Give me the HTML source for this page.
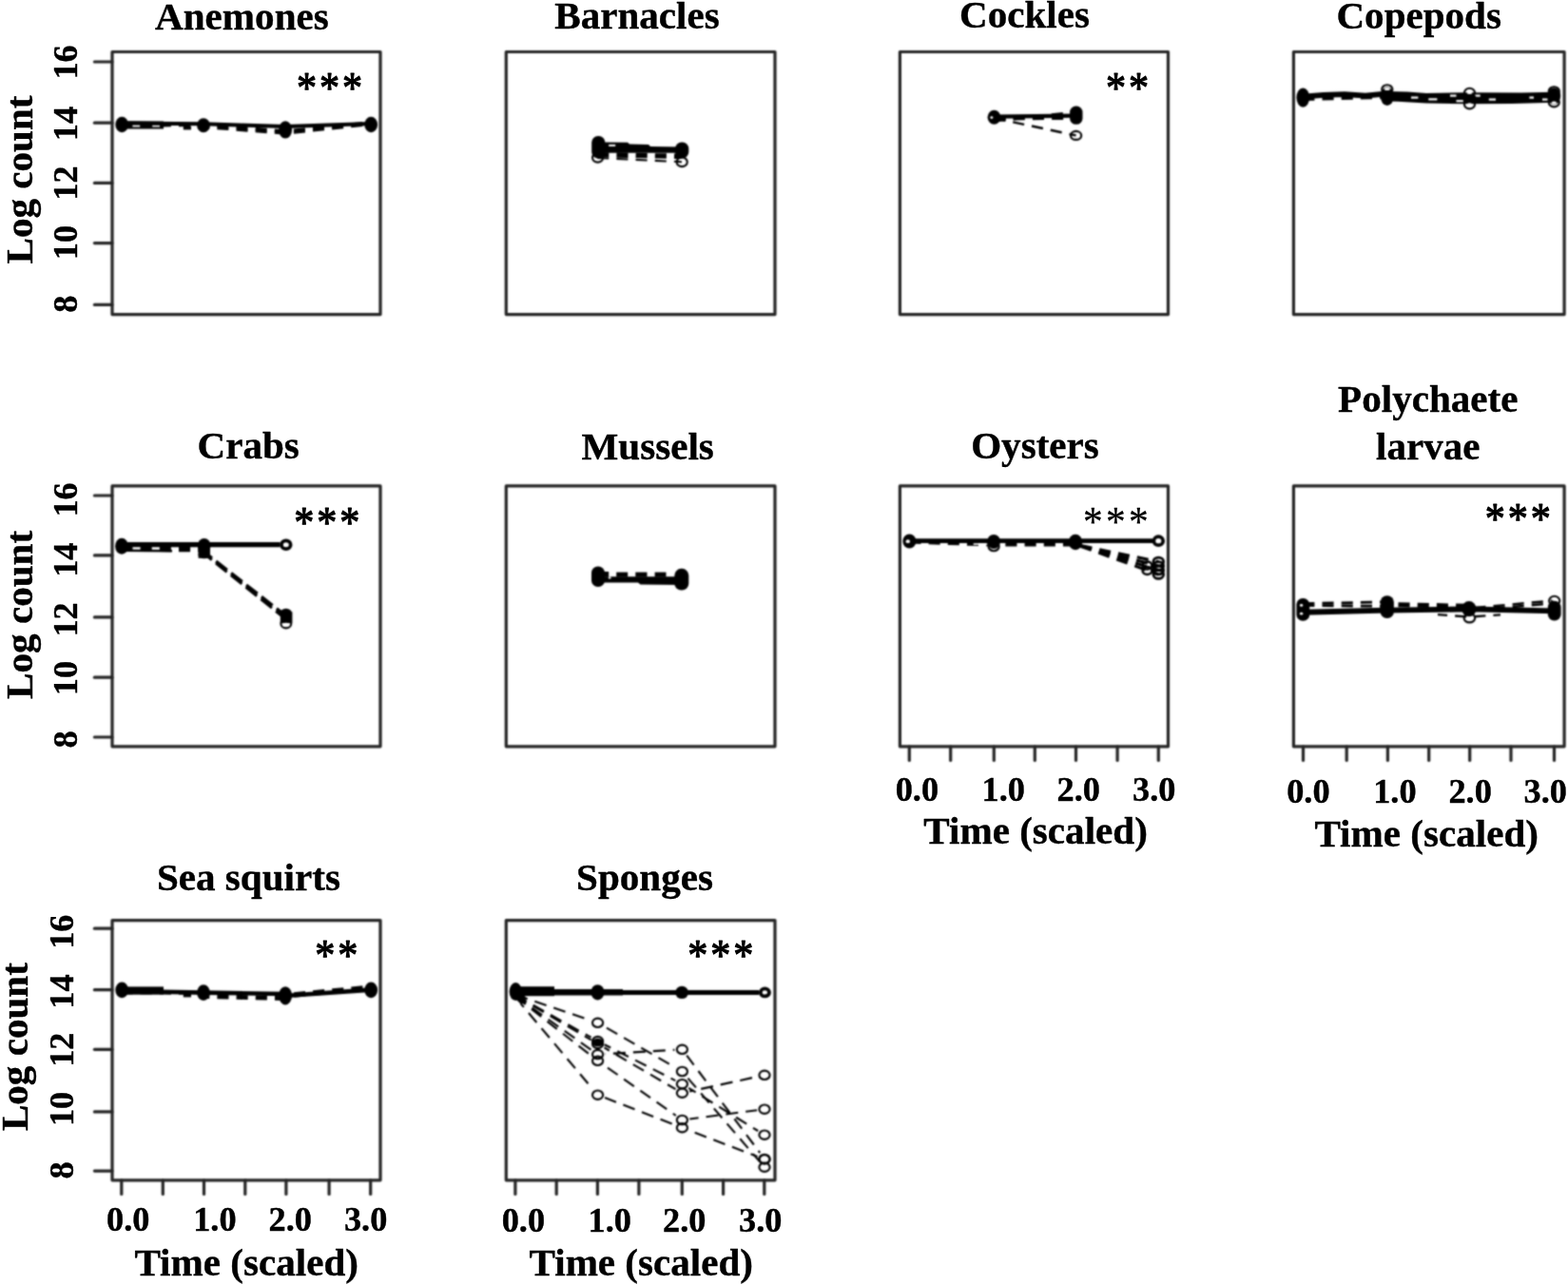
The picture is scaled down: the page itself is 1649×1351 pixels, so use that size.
<!DOCTYPE html>
<html lang="en"><head><meta charset="utf-8"><title>Log count by time (scaled) per taxon</title>
<style>
html,body{margin:0;padding:0;background:#fff;}
body{width:1649px;height:1351px;overflow:hidden;}
svg{display:block;}
text{font-family:"Liberation Serif",serif;font-weight:bold;fill:#000;stroke:#000;stroke-width:0.4px;stroke-linejoin:round;}
.tt{font-size:41.1px;}
.tk{font-size:36.3px;}
.st{font-size:42.2px;font-weight:normal;stroke:#000;stroke-width:1.1px;stroke-linejoin:round;}
</style></head>
<body>
<svg width="1649" height="1351" viewBox="0 0 1649 1351">
<rect x="0" y="0" width="1649" height="1351" fill="#fff"/>
<defs>
<filter id="soft" x="0" y="0" width="100%" height="100%" filterUnits="userSpaceOnUse" color-interpolation-filters="sRGB"><feConvolveMatrix order="5" kernelMatrix="0.00087 0.00695 0.01388 0.00695 0.00087 0.00695 0.05540 0.11068 0.05540 0.00695 0.01388 0.11068 0.22111 0.11068 0.01388 0.00695 0.05540 0.11068 0.05540 0.00695 0.00087 0.00695 0.01388 0.00695 0.00087" divisor="1" edgeMode="none" preserveAlpha="false"/></filter>
</defs>
<g id="plots" filter="url(#soft)">
<rect x="118.0" y="54.5" width="282.0" height="276.1" fill="none" stroke="#242424" stroke-width="3.2" stroke-linejoin="round"/>
<line x1="99.4" y1="65.0" x2="118.0" y2="65.0" stroke="#242424" stroke-width="3.2" stroke-linecap="round"/>
<line x1="99.4" y1="129.2" x2="118.0" y2="129.2" stroke="#242424" stroke-width="3.2" stroke-linecap="round"/>
<line x1="99.4" y1="192.4" x2="118.0" y2="192.4" stroke="#242424" stroke-width="3.2" stroke-linecap="round"/>
<line x1="99.4" y1="255.6" x2="118.0" y2="255.6" stroke="#242424" stroke-width="3.2" stroke-linecap="round"/>
<line x1="99.4" y1="320.4" x2="118.0" y2="320.4" stroke="#242424" stroke-width="3.2" stroke-linecap="round"/>
<polyline points="127.4,132.4 214.0,131.2 300.1,138.0 390.2,128.8" fill="none" stroke="#000" stroke-width="3.4" stroke-linecap="butt" stroke-linejoin="round" stroke-dasharray="12.1 8.1" stroke-dashoffset="0"/>
<polyline points="214.0,133.6 300.1,140.2 390.2,130.6" fill="none" stroke="#000" stroke-width="3.0" stroke-linecap="butt" stroke-linejoin="round" stroke-dasharray="12.1 8.1" stroke-dashoffset="5.8"/>
<polyline points="128.0,131.4 172.0,131.5" fill="none" stroke="#000" stroke-width="8.2" stroke-linecap="butt" stroke-linejoin="round"/>
<rect x="139.4" y="131.0" width="7.8" height="2.4" fill="#fff"/>
<rect x="160.2" y="131.0" width="7.8" height="2.4" fill="#fff"/>
<rect x="192.8" y="132.6" width="8.2" height="3.8" fill="#000"/>
<polyline points="128.2,129.6 214.0,130.2 300.1,133.0 390.2,130.0" fill="none" stroke="#000" stroke-width="4.0" stroke-linecap="butt" stroke-linejoin="round"/>
<ellipse cx="128.2" cy="131.0" rx="6.9" ry="8.3" fill="#000"/>
<ellipse cx="214.0" cy="131.8" rx="6.9" ry="7.5" fill="#000"/>
<ellipse cx="300.1" cy="136.4" rx="7.0" ry="9.2" fill="#000"/>
<ellipse cx="390.2" cy="131.0" rx="6.9" ry="8.3" fill="#000"/>
<rect x="532.3" y="54.5" width="282.7" height="276.1" fill="none" stroke="#242424" stroke-width="3.2" stroke-linejoin="round"/>
<ellipse cx="628.6" cy="165.8" rx="5.6" ry="4.8" fill="none" stroke="#000" stroke-width="2.1"/>
<ellipse cx="717.2" cy="170.3" rx="5.6" ry="4.8" fill="none" stroke="#000" stroke-width="2.1"/>
<polyline points="628.2,166.0 717.0,170.2" fill="none" stroke="#000" stroke-width="2.1" stroke-linecap="butt" stroke-linejoin="round" stroke-dasharray="12.1 8.1" stroke-dashoffset="0"/>
<polyline points="628.2,162.6 717.0,164.4" fill="none" stroke="#000" stroke-width="5.4" stroke-linecap="butt" stroke-linejoin="round" stroke-dasharray="12.1 8.1" stroke-dashoffset="0"/>
<polygon points="629.0,149.4 660.0,149.8 662.0,151.6 682.0,152.0 684.0,154.0 717.0,154.4 717.0,160.8 629.0,160.8" fill="#000"/>
<rect x="640.2" y="151.9" width="7.0" height="2.0" fill="#fff"/>
<rect x="622.2" y="143.0" width="14.2" height="23.6" rx="6.8" ry="6.8" fill="#000"/>
<rect x="710.1" y="149.4" width="14.2" height="17.2" rx="6.8" ry="6.8" fill="#000"/>
<rect x="946.4" y="54.5" width="282.1" height="276.1" fill="none" stroke="#242424" stroke-width="3.2" stroke-linejoin="round"/>
<polyline points="1045.5,124.2 1131.6,142.4" fill="none" stroke="#000" stroke-width="2.5" stroke-linecap="butt" stroke-linejoin="round" stroke-dasharray="12.1 8.1" stroke-dashoffset="0"/>
<ellipse cx="1131.6" cy="142.4" rx="5.6" ry="4.5" fill="none" stroke="#000" stroke-width="2.1"/>
<polyline points="1045.5,126.8 1131.8,118.4" fill="none" stroke="#000" stroke-width="3.4" stroke-linecap="butt" stroke-linejoin="round" stroke-dasharray="12.1 8.1" stroke-dashoffset="0"/>
<polyline points="1045.5,124.8 1131.8,124.0" fill="none" stroke="#000" stroke-width="3.6" stroke-linecap="butt" stroke-linejoin="round" stroke-dasharray="12.1 8.1" stroke-dashoffset="0"/>
<polyline points="1045.5,122.6 1131.8,121.6" fill="none" stroke="#000" stroke-width="4.2" stroke-linecap="butt" stroke-linejoin="round"/>
<ellipse cx="1045.5" cy="123.3" rx="6.9" ry="7.5" fill="#000"/>
<ellipse cx="1042.9" cy="123.6" rx="1.5" ry="1.4" fill="#fff"/>
<rect x="1125.1" y="111.6" width="13.4" height="19.2" rx="6.4" ry="6.4" fill="#000"/>
<rect x="1360.4" y="54.5" width="284.7" height="276.1" fill="none" stroke="#242424" stroke-width="3.2" stroke-linejoin="round"/>
<ellipse cx="1458.8" cy="94.0" rx="5.6" ry="4.8" fill="none" stroke="#000" stroke-width="2.1"/>
<ellipse cx="1545.5" cy="97.6" rx="5.6" ry="4.8" fill="none" stroke="#000" stroke-width="2.1"/>
<ellipse cx="1545.5" cy="109.6" rx="5.6" ry="4.8" fill="none" stroke="#000" stroke-width="2.1"/>
<ellipse cx="1634.3" cy="107.6" rx="5.6" ry="4.8" fill="none" stroke="#000" stroke-width="2.1"/>
<ellipse cx="1634.3" cy="96.0" rx="5.6" ry="4.8" fill="none" stroke="#000" stroke-width="2.1"/>
<polyline points="1370.3,101.6 1392.0,99.8 1414.0,99.2 1436.0,100.6 1458.8,98.4" fill="none" stroke="#000" stroke-width="5.8" stroke-linecap="butt" stroke-linejoin="round"/>
<polyline points="1370.3,103.8 1458.8,101.8" fill="none" stroke="#000" stroke-width="4.2" stroke-linecap="butt" stroke-linejoin="round" stroke-dasharray="12.1 8.1" stroke-dashoffset="0"/>
<polygon points="1458.8,96.0 1480.0,96.4 1500.0,98.0 1545.5,97.2 1600.0,97.4 1634.3,96.8 1634.3,107.8 1590.0,109.0 1545.5,109.2 1500.0,108.6 1470.0,106.8 1458.8,106.4" fill="#000"/>
<rect x="1484.0" y="101.5" width="7.4" height="2.2" fill="#fff"/>
<rect x="1502.3" y="103.3" width="9.1" height="2.2" fill="#fff"/>
<rect x="1525.0" y="99.5" width="6.5" height="2.2" fill="#fff"/>
<rect x="1531.5" y="105.1" width="7.3" height="2.2" fill="#fff"/>
<rect x="1551.3" y="99.5" width="5.4" height="2.2" fill="#fff"/>
<rect x="1565.8" y="103.5" width="7.2" height="2.2" fill="#fff"/>
<rect x="1608.4" y="101.5" width="4.6" height="2.2" fill="#fff"/>
<rect x="1622.0" y="103.5" width="5.5" height="2.2" fill="#fff"/>
<ellipse cx="1370.3" cy="102.6" rx="6.9" ry="10.1" fill="#000"/>
<ellipse cx="1458.8" cy="101.2" rx="6.9" ry="9.8" fill="#000"/>
<ellipse cx="1545.5" cy="103.5" rx="7.1" ry="5.6" fill="#000"/>
<ellipse cx="1634.3" cy="101.0" rx="6.9" ry="8.8" fill="#000"/>
<ellipse cx="1545.5" cy="97.4" rx="2.8" ry="1.6" fill="#fff"/>
<ellipse cx="1545.5" cy="109.8" rx="2.8" ry="1.6" fill="#fff"/>
<ellipse cx="1458.8" cy="93.4" rx="3.0" ry="1.5" fill="#fff"/>
<ellipse cx="1634.3" cy="107.9" rx="2.8" ry="1.5" fill="#fff"/>
<rect x="118.0" y="510.9" width="282.0" height="273.9" fill="none" stroke="#242424" stroke-width="3.2" stroke-linejoin="round"/>
<line x1="99.4" y1="521.0" x2="118.0" y2="521.0" stroke="#242424" stroke-width="3.2" stroke-linecap="round"/>
<line x1="99.4" y1="583.9" x2="118.0" y2="583.9" stroke="#242424" stroke-width="3.2" stroke-linecap="round"/>
<line x1="99.4" y1="648.9" x2="118.0" y2="648.9" stroke="#242424" stroke-width="3.2" stroke-linecap="round"/>
<line x1="99.4" y1="712.2" x2="118.0" y2="712.2" stroke="#242424" stroke-width="3.2" stroke-linecap="round"/>
<line x1="99.4" y1="775.0" x2="118.0" y2="775.0" stroke="#242424" stroke-width="3.2" stroke-linecap="round"/>
<polyline points="127.4,577.0 214.7,577.8" fill="none" stroke="#000" stroke-width="5.4" stroke-linecap="butt" stroke-linejoin="round" stroke-dasharray="12.1 8.1" stroke-dashoffset="0"/>
<polyline points="128.0,578.8 181.0,579.2" fill="none" stroke="#000" stroke-width="2.4" stroke-linecap="butt" stroke-linejoin="round"/>
<polyline points="214.7,580.4 300.8,647.6" fill="none" stroke="#000" stroke-width="3.3" stroke-linecap="butt" stroke-linejoin="round" stroke-dasharray="14.8 5.4" stroke-dashoffset="4.4"/>
<polyline points="214.7,582.2 300.8,651.0" fill="none" stroke="#000" stroke-width="3.0" stroke-linecap="butt" stroke-linejoin="round" stroke-dasharray="14.8 5.4" stroke-dashoffset="4.4"/>
<polyline points="128.0,572.7 294.6,572.7" fill="none" stroke="#000" stroke-width="5.2" stroke-linecap="butt" stroke-linejoin="round"/>
<ellipse cx="300.8" cy="572.7" rx="4.85" ry="4.35" fill="#fff" stroke="#000" stroke-width="3.7"/>
<ellipse cx="300.8" cy="655.8" rx="5.4" ry="4.6" fill="none" stroke="#000" stroke-width="2.1"/>
<ellipse cx="128.0" cy="574.3" rx="6.9" ry="8.5" fill="#000"/>
<ellipse cx="214.7" cy="573.6" rx="6.9" ry="7.7" fill="#000"/>
<rect x="208.6" y="573.0" width="12.4" height="13.8" fill="#000"/>
<ellipse cx="214.7" cy="583.0" rx="6.3" ry="4.2" fill="#000"/>
<rect x="294.8" y="643.4" width="12.6" height="11.8" fill="#000"/>
<ellipse cx="300.8" cy="645.0" rx="6.3" ry="5.2" fill="#000"/>
<ellipse cx="300.8" cy="656.2" rx="3.2" ry="1.5" fill="#fff"/>
<rect x="532.3" y="510.9" width="282.7" height="273.9" fill="none" stroke="#242424" stroke-width="3.2" stroke-linejoin="round"/>
<polygon points="629.0,606.2 717.0,606.2 717.0,614.9 673.5,614.5 671.0,612.4 629.0,612.4" fill="#000"/>
<rect x="648.2" y="601.6" width="12.0" height="5.0" fill="#000"/>
<rect x="668.3" y="601.6" width="12.2" height="5.0" fill="#000"/>
<rect x="688.6" y="601.6" width="11.9" height="5.0" fill="#000"/>
<rect x="634.0" y="601.0" width="6.2" height="5.6" fill="#000"/>
<rect x="622.0" y="595.4" width="14.0" height="21.6" rx="6.8" ry="6.8" fill="#000"/>
<rect x="709.3" y="597.8" width="15.0" height="22.8" rx="7.2" ry="7.2" fill="#000"/>
<ellipse cx="641.2" cy="607.4" rx="1.4" ry="1.2" fill="#fff"/>
<rect x="946.4" y="510.9" width="282.1" height="273.9" fill="none" stroke="#242424" stroke-width="3.2" stroke-linejoin="round"/>
<line x1="956.3" y1="784.8" x2="956.3" y2="799.4" stroke="#242424" stroke-width="3.2" stroke-linecap="round"/>
<line x1="999.7" y1="784.8" x2="999.7" y2="799.4" stroke="#242424" stroke-width="3.2" stroke-linecap="round"/>
<line x1="1045.3" y1="784.8" x2="1045.3" y2="799.4" stroke="#242424" stroke-width="3.2" stroke-linecap="round"/>
<line x1="1088.3" y1="784.8" x2="1088.3" y2="799.4" stroke="#242424" stroke-width="3.2" stroke-linecap="round"/>
<line x1="1131.5" y1="784.8" x2="1131.5" y2="799.4" stroke="#242424" stroke-width="3.2" stroke-linecap="round"/>
<line x1="1175.1" y1="784.8" x2="1175.1" y2="799.4" stroke="#242424" stroke-width="3.2" stroke-linecap="round"/>
<line x1="1218.3" y1="784.8" x2="1218.3" y2="799.4" stroke="#242424" stroke-width="3.2" stroke-linecap="round"/>
<ellipse cx="1045.1" cy="574.6" rx="5.6" ry="4.6" fill="none" stroke="#000" stroke-width="2.1"/>
<polyline points="956.4,569.6 1045.1,572.6 1131.0,572.4" fill="none" stroke="#000" stroke-width="4.0" stroke-linecap="butt" stroke-linejoin="round" stroke-dasharray="12.1 8.1" stroke-dashoffset="0"/>
<polyline points="1131.0,572.4 1218.3,590.5" fill="none" stroke="#000" stroke-width="3.0" stroke-linecap="butt" stroke-linejoin="round" stroke-dasharray="12.1 8.1" stroke-dashoffset="14.6"/>
<polyline points="1131.0,572.4 1218.3,595.0" fill="none" stroke="#000" stroke-width="3.0" stroke-linecap="butt" stroke-linejoin="round" stroke-dasharray="12.1 8.1" stroke-dashoffset="14.6"/>
<polyline points="1131.0,572.4 1218.3,599.5" fill="none" stroke="#000" stroke-width="3.0" stroke-linecap="butt" stroke-linejoin="round" stroke-dasharray="12.1 8.1" stroke-dashoffset="14.6"/>
<polyline points="1131.0,572.4 1218.3,604.0" fill="none" stroke="#000" stroke-width="3.0" stroke-linecap="butt" stroke-linejoin="round" stroke-dasharray="12.1 8.1" stroke-dashoffset="14.6"/>
<ellipse cx="1218.3" cy="590.5" rx="5.4" ry="4.4" fill="none" stroke="#000" stroke-width="2.7"/>
<ellipse cx="1218.3" cy="595.0" rx="5.4" ry="4.4" fill="none" stroke="#000" stroke-width="2.7"/>
<ellipse cx="1218.3" cy="599.5" rx="5.4" ry="4.4" fill="none" stroke="#000" stroke-width="2.7"/>
<ellipse cx="1218.3" cy="604.0" rx="5.4" ry="4.4" fill="none" stroke="#000" stroke-width="2.7"/>
<ellipse cx="1206.5" cy="594.5" rx="4.9" ry="4.0" fill="none" stroke="#000" stroke-width="2.5"/>
<ellipse cx="1206.5" cy="600.0" rx="4.9" ry="4.0" fill="none" stroke="#000" stroke-width="2.5"/>
<polyline points="956.4,568.7 1212.2,568.7" fill="none" stroke="#000" stroke-width="4.8" stroke-linecap="butt" stroke-linejoin="round"/>
<ellipse cx="1218.3" cy="568.7" rx="4.9" ry="4.5" fill="#fff" stroke="#000" stroke-width="3.7"/>
<ellipse cx="956.4" cy="569.0" rx="7.1" ry="7.4" fill="#000"/>
<ellipse cx="954.8" cy="569.2" rx="2.2" ry="1.9" fill="#fff"/>
<ellipse cx="1045.1" cy="569.4" rx="6.9" ry="7.5" fill="#000"/>
<ellipse cx="1131.0" cy="570.0" rx="7.3" ry="8.3" fill="#000"/>
<rect x="1023.7" y="571.2" width="14.5" height="1.7" fill="#fff"/>
<rect x="1360.4" y="510.9" width="284.7" height="273.9" fill="none" stroke="#242424" stroke-width="3.2" stroke-linejoin="round"/>
<line x1="1370.5" y1="784.8" x2="1370.5" y2="799.4" stroke="#242424" stroke-width="3.2" stroke-linecap="round"/>
<line x1="1416.2" y1="784.8" x2="1416.2" y2="799.4" stroke="#242424" stroke-width="3.2" stroke-linecap="round"/>
<line x1="1459.4" y1="784.8" x2="1459.4" y2="799.4" stroke="#242424" stroke-width="3.2" stroke-linecap="round"/>
<line x1="1502.7" y1="784.8" x2="1502.7" y2="799.4" stroke="#242424" stroke-width="3.2" stroke-linecap="round"/>
<line x1="1545.7" y1="784.8" x2="1545.7" y2="799.4" stroke="#242424" stroke-width="3.2" stroke-linecap="round"/>
<line x1="1589.0" y1="784.8" x2="1589.0" y2="799.4" stroke="#242424" stroke-width="3.2" stroke-linecap="round"/>
<line x1="1634.5" y1="784.8" x2="1634.5" y2="799.4" stroke="#242424" stroke-width="3.2" stroke-linecap="round"/>
<ellipse cx="1545.4" cy="649.8" rx="5.8" ry="4.6" fill="none" stroke="#000" stroke-width="2.1"/>
<ellipse cx="1634.7" cy="631.6" rx="5.6" ry="4.8" fill="none" stroke="#000" stroke-width="2.1"/>
<polyline points="1370.3,634.6 1458.8,632.8" fill="none" stroke="#000" stroke-width="2.8" stroke-linecap="butt" stroke-linejoin="round" stroke-dasharray="12.1 8.1" stroke-dashoffset="0"/>
<polyline points="1370.3,636.4 1458.8,637.4" fill="none" stroke="#000" stroke-width="2.8" stroke-linecap="butt" stroke-linejoin="round" stroke-dasharray="12.1 8.1" stroke-dashoffset="0"/>
<polyline points="1458.8,635.4 1544.9,637.4" fill="none" stroke="#000" stroke-width="5.0" stroke-linecap="butt" stroke-linejoin="round" stroke-dasharray="12.1 8.1" stroke-dashoffset="8.5"/>
<polyline points="1544.9,639.6 1634.7,631.4" fill="none" stroke="#000" stroke-width="2.5" stroke-linecap="butt" stroke-linejoin="round" stroke-dasharray="12.1 8.1" stroke-dashoffset="14.7"/>
<polyline points="1544.9,641.8 1634.7,634.2" fill="none" stroke="#000" stroke-width="2.5" stroke-linecap="butt" stroke-linejoin="round" stroke-dasharray="12.1 8.1" stroke-dashoffset="14.7"/>
<polyline points="1512.0,646.2 1545.4,648.6 1578.0,646.4" fill="none" stroke="#000" stroke-width="2.3" stroke-linecap="butt" stroke-linejoin="round" stroke-dasharray="12.1 8.1" stroke-dashoffset="2"/>
<polyline points="1370.3,643.8 1458.8,641.6 1544.9,640.4 1634.7,642.4" fill="none" stroke="#000" stroke-width="5.9" stroke-linecap="butt" stroke-linejoin="round"/>
<rect x="1363.4" y="629.0" width="13.8" height="23.8" rx="6.6" ry="6.6" fill="#000"/>
<ellipse cx="1368.6" cy="636.4" rx="1.7" ry="1.4" fill="#fff"/>
<ellipse cx="1368.6" cy="645.2" rx="1.7" ry="1.4" fill="#fff"/>
<rect x="1451.7" y="626.2" width="14.2" height="23.8" rx="6.8" ry="6.8" fill="#000"/>
<ellipse cx="1544.9" cy="640.2" rx="7.7" ry="8.1" fill="#000"/>
<rect x="1627.8" y="631.8" width="13.8" height="20.6" rx="6.6" ry="6.6" fill="#000"/>
<ellipse cx="1634.7" cy="630.4" rx="2.8" ry="1.4" fill="#fff"/>
<ellipse cx="1545.4" cy="651.2" rx="3.0" ry="1.4" fill="#fff"/>
<rect x="118.0" y="967.6" width="282.0" height="273.2" fill="none" stroke="#242424" stroke-width="3.2" stroke-linejoin="round"/>
<line x1="99.4" y1="976.2" x2="118.0" y2="976.2" stroke="#242424" stroke-width="3.2" stroke-linecap="round"/>
<line x1="99.4" y1="1040.7" x2="118.0" y2="1040.7" stroke="#242424" stroke-width="3.2" stroke-linecap="round"/>
<line x1="99.4" y1="1103.3" x2="118.0" y2="1103.3" stroke="#242424" stroke-width="3.2" stroke-linecap="round"/>
<line x1="99.4" y1="1168.9" x2="118.0" y2="1168.9" stroke="#242424" stroke-width="3.2" stroke-linecap="round"/>
<line x1="99.4" y1="1231.1" x2="118.0" y2="1231.1" stroke="#242424" stroke-width="3.2" stroke-linecap="round"/>
<line x1="127.8" y1="1240.8" x2="127.8" y2="1255.4" stroke="#242424" stroke-width="3.2" stroke-linecap="round"/>
<line x1="171.3" y1="1240.8" x2="171.3" y2="1255.4" stroke="#242424" stroke-width="3.2" stroke-linecap="round"/>
<line x1="214.5" y1="1240.8" x2="214.5" y2="1255.4" stroke="#242424" stroke-width="3.2" stroke-linecap="round"/>
<line x1="257.8" y1="1240.8" x2="257.8" y2="1255.4" stroke="#242424" stroke-width="3.2" stroke-linecap="round"/>
<line x1="300.9" y1="1240.8" x2="300.9" y2="1255.4" stroke="#242424" stroke-width="3.2" stroke-linecap="round"/>
<line x1="346.1" y1="1240.8" x2="346.1" y2="1255.4" stroke="#242424" stroke-width="3.2" stroke-linecap="round"/>
<line x1="389.7" y1="1240.8" x2="389.7" y2="1255.4" stroke="#242424" stroke-width="3.2" stroke-linecap="round"/>
<polyline points="127.4,1043.2 214.0,1043.6" fill="none" stroke="#000" stroke-width="4.4" stroke-linecap="butt" stroke-linejoin="round" stroke-dasharray="12.1 8.1" stroke-dashoffset="0"/>
<polyline points="214.0,1047.4 300.1,1049.6" fill="none" stroke="#000" stroke-width="4.8" stroke-linecap="butt" stroke-linejoin="round" stroke-dasharray="12.1 8.1" stroke-dashoffset="5.8"/>
<polyline points="300.1,1046.8 390.2,1038.2" fill="none" stroke="#000" stroke-width="5.6" stroke-linecap="butt" stroke-linejoin="round" stroke-dasharray="12.1 8.1" stroke-dashoffset="11.1"/>
<rect x="128.0" y="1037.4" width="44.0" height="8.3" fill="#000"/>
<rect x="192.8" y="1045.0" width="8.2" height="3.4" fill="#000"/>
<polyline points="170.0,1042.7 214.0,1043.6 300.1,1045.0 303.0,1046.8 390.2,1040.6" fill="none" stroke="#000" stroke-width="4.6" stroke-linecap="butt" stroke-linejoin="round"/>
<ellipse cx="128.2" cy="1040.9" rx="6.9" ry="8.3" fill="#000"/>
<ellipse cx="214.0" cy="1043.6" rx="6.9" ry="8.3" fill="#000"/>
<ellipse cx="300.1" cy="1046.8" rx="7.0" ry="9.6" fill="#000"/>
<ellipse cx="390.2" cy="1040.9" rx="6.9" ry="8.3" fill="#000"/>
<rect x="532.3" y="967.6" width="282.7" height="273.2" fill="none" stroke="#242424" stroke-width="3.2" stroke-linejoin="round"/>
<line x1="541.9" y1="1240.8" x2="541.9" y2="1255.4" stroke="#242424" stroke-width="3.2" stroke-linecap="round"/>
<line x1="585.2" y1="1240.8" x2="585.2" y2="1255.4" stroke="#242424" stroke-width="3.2" stroke-linecap="round"/>
<line x1="628.4" y1="1240.8" x2="628.4" y2="1255.4" stroke="#242424" stroke-width="3.2" stroke-linecap="round"/>
<line x1="671.9" y1="1240.8" x2="671.9" y2="1255.4" stroke="#242424" stroke-width="3.2" stroke-linecap="round"/>
<line x1="717.3" y1="1240.8" x2="717.3" y2="1255.4" stroke="#242424" stroke-width="3.2" stroke-linecap="round"/>
<line x1="760.6" y1="1240.8" x2="760.6" y2="1255.4" stroke="#242424" stroke-width="3.2" stroke-linecap="round"/>
<line x1="803.8" y1="1240.8" x2="803.8" y2="1255.4" stroke="#242424" stroke-width="3.2" stroke-linecap="round"/>
<line x1="550.0" y1="1048.6" x2="621.0" y2="1072.7" stroke="#000" stroke-width="2.1" stroke-dasharray="13 8" stroke-dashoffset="8.0"/>
<line x1="635.5" y1="1079.3" x2="710.5" y2="1122.5" stroke="#000" stroke-width="2.1" stroke-dasharray="13 8" stroke-dashoffset="18.2"/>
<line x1="722.6" y1="1132.6" x2="798.8" y2="1221.1" stroke="#000" stroke-width="2.1" stroke-dasharray="13 8" stroke-dashoffset="19.7"/>
<line x1="549.4" y1="1050.4" x2="621.6" y2="1090.7" stroke="#000" stroke-width="2.1" stroke-dasharray="13 8" stroke-dashoffset="8.0"/>
<line x1="635.7" y1="1098.2" x2="710.3" y2="1136.1" stroke="#000" stroke-width="2.1" stroke-dasharray="13 8" stroke-dashoffset="5.7"/>
<line x1="724.2" y1="1143.9" x2="797.2" y2="1189.0" stroke="#000" stroke-width="2.1" stroke-dasharray="13 8" stroke-dashoffset="4.3"/>
<line x1="549.3" y1="1051.0" x2="621.7" y2="1093.4" stroke="#000" stroke-width="2.1" stroke-dasharray="13 8" stroke-dashoffset="8.0"/>
<line x1="635.5" y1="1101.4" x2="710.5" y2="1145.2" stroke="#000" stroke-width="2.1" stroke-dasharray="13 8" stroke-dashoffset="6.9"/>
<line x1="725.2" y1="1147.5" x2="796.2" y2="1132.0" stroke="#000" stroke-width="2.1" stroke-dasharray="13 8" stroke-dashoffset="8.7"/>
<line x1="548.9" y1="1052.1" x2="622.1" y2="1104.0" stroke="#000" stroke-width="2.1" stroke-dasharray="13 8" stroke-dashoffset="8.0"/>
<line x1="636.6" y1="1108.1" x2="709.4" y2="1103.8" stroke="#000" stroke-width="2.1" stroke-dasharray="13 8" stroke-dashoffset="12.7"/>
<line x1="722.2" y1="1109.7" x2="799.2" y2="1212.0" stroke="#000" stroke-width="2.1" stroke-dasharray="13 8" stroke-dashoffset="0.6"/>
<line x1="548.7" y1="1052.9" x2="622.3" y2="1110.4" stroke="#000" stroke-width="2.1" stroke-dasharray="13 8" stroke-dashoffset="8.0"/>
<line x1="635.2" y1="1119.9" x2="710.8" y2="1172.9" stroke="#000" stroke-width="2.1" stroke-dasharray="13 8" stroke-dashoffset="16.4"/>
<line x1="725.3" y1="1176.5" x2="796.1" y2="1167.2" stroke="#000" stroke-width="2.1" stroke-dasharray="13 8" stroke-dashoffset="3.6"/>
<line x1="547.6" y1="1055.1" x2="623.4" y2="1145.1" stroke="#000" stroke-width="2.1" stroke-dasharray="13 8" stroke-dashoffset="8.0"/>
<line x1="636.1" y1="1154.1" x2="709.9" y2="1182.8" stroke="#000" stroke-width="2.1" stroke-dasharray="13 8" stroke-dashoffset="0.3"/>
<line x1="724.9" y1="1188.6" x2="796.5" y2="1216.0" stroke="#000" stroke-width="2.1" stroke-dasharray="13 8" stroke-dashoffset="14.8"/>
<ellipse cx="628.6" cy="1075.3" rx="5.6" ry="4.7" fill="none" stroke="#000" stroke-width="2.1"/>
<ellipse cx="717.4" cy="1126.5" rx="5.6" ry="4.7" fill="none" stroke="#000" stroke-width="2.1"/>
<ellipse cx="804.0" cy="1227.2" rx="5.6" ry="4.7" fill="none" stroke="#000" stroke-width="2.1"/>
<ellipse cx="628.6" cy="1094.6" rx="5.6" ry="4.7" fill="none" stroke="#000" stroke-width="2.1"/>
<ellipse cx="717.4" cy="1139.7" rx="5.6" ry="4.7" fill="none" stroke="#000" stroke-width="2.1"/>
<ellipse cx="804.0" cy="1193.2" rx="5.6" ry="4.7" fill="none" stroke="#000" stroke-width="2.1"/>
<ellipse cx="628.6" cy="1097.4" rx="5.6" ry="4.7" fill="none" stroke="#000" stroke-width="2.1"/>
<ellipse cx="717.4" cy="1149.2" rx="5.6" ry="4.7" fill="none" stroke="#000" stroke-width="2.1"/>
<ellipse cx="804.0" cy="1130.3" rx="5.6" ry="4.7" fill="none" stroke="#000" stroke-width="2.1"/>
<ellipse cx="628.6" cy="1108.6" rx="5.6" ry="4.7" fill="none" stroke="#000" stroke-width="2.1"/>
<ellipse cx="717.4" cy="1103.3" rx="5.6" ry="4.7" fill="none" stroke="#000" stroke-width="2.1"/>
<ellipse cx="804.0" cy="1218.4" rx="5.6" ry="4.7" fill="none" stroke="#000" stroke-width="2.1"/>
<ellipse cx="628.6" cy="1115.3" rx="5.6" ry="4.7" fill="none" stroke="#000" stroke-width="2.1"/>
<ellipse cx="717.4" cy="1177.5" rx="5.6" ry="4.7" fill="none" stroke="#000" stroke-width="2.1"/>
<ellipse cx="804.0" cy="1166.2" rx="5.6" ry="4.7" fill="none" stroke="#000" stroke-width="2.1"/>
<ellipse cx="628.6" cy="1151.2" rx="5.6" ry="4.7" fill="none" stroke="#000" stroke-width="2.1"/>
<ellipse cx="717.4" cy="1185.7" rx="5.6" ry="4.7" fill="none" stroke="#000" stroke-width="2.1"/>
<ellipse cx="804.0" cy="1218.9" rx="5.6" ry="4.7" fill="none" stroke="#000" stroke-width="2.1"/>
<ellipse cx="628.6" cy="1096.0" rx="4.6" ry="3.6" fill="#000"/>
<rect x="542.0" y="1037.2" width="41.0" height="10.0" fill="#000"/>
<polyline points="580.0,1043.3 655.0,1043.3" fill="none" stroke="#000" stroke-width="6.4" stroke-linecap="butt" stroke-linejoin="round"/>
<polyline points="542.4,1043.4 798.0,1043.4" fill="none" stroke="#000" stroke-width="5.0" stroke-linecap="butt" stroke-linejoin="round"/>
<ellipse cx="542.3" cy="1042.6" rx="6.7" ry="9.5" fill="#000"/>
<polygon points="540.0,1048.0 551.0,1046.0 553.5,1049.5 548.5,1056.5" fill="#000"/>
<ellipse cx="628.5" cy="1043.3" rx="7.1" ry="8.1" fill="#000"/>
<ellipse cx="717.1" cy="1043.4" rx="6.9" ry="6.7" fill="#000"/>
<ellipse cx="804.4" cy="1043.4" rx="4.6" ry="4.0" fill="#fff" stroke="#000" stroke-width="3.8"/>
</g>
<g id="labels">
<text class="tk" text-anchor="middle" transform="translate(81.0,65.4) rotate(-90)">16</text>
<text class="tk" text-anchor="middle" transform="translate(81.0,130.0) rotate(-90)">14</text>
<text class="tk" text-anchor="middle" transform="translate(81.0,192.6) rotate(-90)">12</text>
<text class="tk" text-anchor="middle" transform="translate(81.0,255.0) rotate(-90)">10</text>
<text class="tk" text-anchor="middle" transform="translate(81.0,319.6) rotate(-90)">8</text>
<text class="tt" text-anchor="middle" transform="translate(33.8,189.0) rotate(-90)">Log count</text>
<text class="tt" text-anchor="middle" x="254.4" y="31.2">Anemones</text>
<text class="st" transform="translate(0,86.0) scale(1,1.08)" x="312.1 336.1 360.1" y="20.0">***</text>
<text class="tt" text-anchor="middle" x="670.0" y="29.8">Barnacles</text>
<text class="tt" text-anchor="middle" x="1077.5" y="29.1">Cockles</text>
<text class="st" transform="translate(0,86.6) scale(1,1.08)" x="1162.9 1186.9" y="20.0">**</text>
<text class="tt" text-anchor="middle" x="1492.2" y="30.0">Copepods</text>
<text class="tk" text-anchor="middle" transform="translate(80.6,525.4) rotate(-90)">16</text>
<text class="tk" text-anchor="middle" transform="translate(80.6,588.7) rotate(-90)">14</text>
<text class="tk" text-anchor="middle" transform="translate(80.6,651.4) rotate(-90)">12</text>
<text class="tk" text-anchor="middle" transform="translate(80.6,713.0) rotate(-90)">10</text>
<text class="tk" text-anchor="middle" transform="translate(80.6,777.4) rotate(-90)">8</text>
<text class="tt" text-anchor="middle" transform="translate(34.0,646.4) rotate(-90)">Log count</text>
<text class="tt" text-anchor="middle" x="261.2" y="482.0">Crabs</text>
<text class="st" transform="translate(0,543.3) scale(1,1.08)" x="309.3 333.3 357.3" y="20.0">***</text>
<text class="tt" text-anchor="middle" x="681.2" y="482.6">Mussels</text>
<text class="tt" text-anchor="middle" x="1088.5" y="481.8">Oysters</text>
<text class="st" style="font-size:41.5px;stroke-width:0.25px" transform="translate(0,541.9) scale(1,1.08)" x="1139.1 1163.1 1187.1" y="19.7">***</text>
<text class="tk" text-anchor="middle" x="964.4" y="842.2">0.0</text>
<text class="tk" text-anchor="middle" x="1055.2" y="842.2">1.0</text>
<text class="tk" text-anchor="middle" x="1134.2" y="842.2">2.0</text>
<text class="tk" text-anchor="middle" x="1213.8" y="842.2">3.0</text>
<text class="tt" text-anchor="middle" x="1089.1" y="887.0">Time (scaled)</text>
<text class="tt" text-anchor="middle" x="1501.8" y="433.4">Polychaete</text>
<text class="tt" text-anchor="middle" x="1501.8" y="482.5">larvae</text>
<text class="st" transform="translate(0,539.6) scale(1,1.08)" x="1561.8 1585.8 1609.8" y="20.0">***</text>
<text class="tk" text-anchor="middle" x="1375.9" y="844.2">0.0</text>
<text class="tk" text-anchor="middle" x="1466.9" y="844.2">1.0</text>
<text class="tk" text-anchor="middle" x="1546.1" y="844.2">2.0</text>
<text class="tk" text-anchor="middle" x="1625.3" y="844.2">3.0</text>
<text class="tt" text-anchor="middle" x="1500.2" y="889.6">Time (scaled)</text>
<text class="tk" text-anchor="middle" transform="translate(76.8,979.7) rotate(-90)">16</text>
<text class="tk" text-anchor="middle" transform="translate(76.8,1042.6) rotate(-90)">14</text>
<text class="tk" text-anchor="middle" transform="translate(76.8,1103.7) rotate(-90)">12</text>
<text class="tk" text-anchor="middle" transform="translate(76.8,1165.9) rotate(-90)">10</text>
<text class="tk" text-anchor="middle" transform="translate(76.8,1230.4) rotate(-90)">8</text>
<text class="tt" text-anchor="middle" transform="translate(29.0,1100.6) rotate(-90)">Log count</text>
<text class="tt" text-anchor="middle" x="261.4" y="935.6">Sea squirts</text>
<text class="st" transform="translate(0,998.3) scale(1,1.08)" x="331.3 355.3" y="20.0">**</text>
<text class="tk" text-anchor="middle" x="134.7" y="1294.4">0.0</text>
<text class="tk" text-anchor="middle" x="225.9" y="1294.4">1.0</text>
<text class="tk" text-anchor="middle" x="305.3" y="1294.4">2.0</text>
<text class="tk" text-anchor="middle" x="384.6" y="1294.4">3.0</text>
<text class="tt" text-anchor="middle" x="259.2" y="1340.8">Time (scaled)</text>
<text class="tt" text-anchor="middle" x="678.0" y="935.6">Sponges</text>
<text class="st" transform="translate(0,998.6) scale(1,1.08)" x="723.3 747.3 771.3" y="20.0">***</text>
<text class="tk" text-anchor="middle" x="550.4" y="1294.9">0.0</text>
<text class="tk" text-anchor="middle" x="641.3" y="1294.9">1.0</text>
<text class="tk" text-anchor="middle" x="719.7" y="1294.9">2.0</text>
<text class="tk" text-anchor="middle" x="799.7" y="1294.9">3.0</text>
<text class="tt" text-anchor="middle" x="674.3" y="1341.2">Time (scaled)</text>
</g>
</svg>
</body></html>
